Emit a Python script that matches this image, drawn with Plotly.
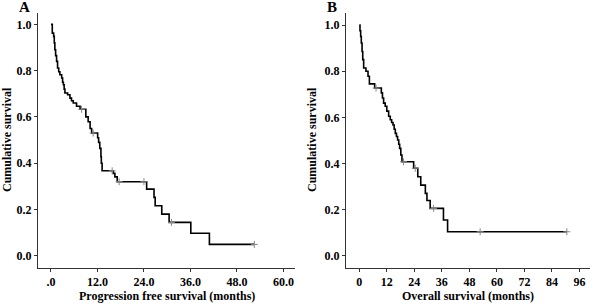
import plotly.graph_objects as go

# ---- Panel A: progression free survival ----
pfs_time = [0, 0.34, 0.69, 0.85, 1.0, 1.2, 1.45, 1.7, 2.0, 2.3, 2.76, 3.0, 3.2, 3.4, 3.6,
            4.3, 4.9, 5.3, 5.75, 6.6, 7.5, 9.0, 9.6, 10.1, 10.5, 12.05, 12.3, 12.6,
            12.9, 13.0, 13.2, 16.1, 16.5, 17.1, 24.7, 26.6, 26.9, 28.6, 30.5, 36.1,
            40.9, 52.5]
pfs_surv = [1.0, 0.962, 0.948, 0.92, 0.89, 0.865, 0.84, 0.811, 0.795, 0.782, 0.768, 0.75,
            0.739, 0.72, 0.703, 0.696, 0.681, 0.67, 0.66, 0.646, 0.633, 0.60, 0.579,
            0.55, 0.53, 0.51, 0.49, 0.464, 0.428, 0.40, 0.367, 0.356, 0.341, 0.32,
            0.288, 0.252, 0.216, 0.18, 0.144, 0.097, 0.049, 0.049]
pfs_cens_time = [7.9, 10.9, 15.8, 17.6, 24.0, 31.1, 52.5]
pfs_cens_surv = [0.633, 0.53, 0.367, 0.32, 0.32, 0.144, 0.049]

# ---- Panel B: overall survival ----
os_time = [0, 0.3, 0.6, 0.87, 1.2, 1.5, 1.9, 2.9, 3.8, 4.4, 6.7, 9.6, 10.1, 10.6, 11.3,
           12.0, 12.8, 13.5, 14.1, 14.7, 15.2, 15.7, 16.2, 16.7, 17.2, 17.6, 18.1,
           18.6, 23.7, 25.5, 26.8, 28.8, 29.5, 30.9, 36.7, 38.5, 90.5]
os_surv = [1.0, 0.975, 0.95, 0.922, 0.885, 0.85, 0.814, 0.80, 0.778, 0.745, 0.727, 0.706,
           0.684, 0.662, 0.648, 0.627, 0.605, 0.59, 0.578, 0.567, 0.549, 0.531, 0.517,
           0.502, 0.484, 0.466, 0.437, 0.408, 0.38, 0.343, 0.307, 0.271, 0.24, 0.206,
           0.156, 0.105, 0.105]
os_cens_time = [7.3, 19.3, 24.4, 32.4, 52.7, 90.5]
os_cens_surv = [0.727, 0.408, 0.38, 0.206, 0.105, 0.105]

pfs_ticks = [0, 12, 24, 36, 48, 60]
pfs_ticktext = [".0", "12.0", "24.0", "36.0", "48.0", "60.0"]
os_ticks = [0, 12, 24, 36, 48, 60, 72, 84, 96]
y_ticks = [0.0, 0.2, 0.4, 0.6, 0.8, 1.0]

W, H = 600, 307
FONT = "Liberation Serif"

fig = go.Figure()

fig.add_trace(go.Scatter(x=pfs_time, y=pfs_surv, mode="lines", line_shape="hv",
                         line=dict(color="black", width=1.6), xaxis="x", yaxis="y",
                         showlegend=False, hoverinfo="skip"))
fig.add_trace(go.Scatter(x=pfs_cens_time, y=pfs_cens_surv, mode="markers",
                         marker=dict(symbol="cross-thin", size=5,
                                     line=dict(color="#888888", width=1)),
                         xaxis="x", yaxis="y", showlegend=False, hoverinfo="skip"))
fig.add_trace(go.Scatter(x=os_time, y=os_surv, mode="lines", line_shape="hv",
                         line=dict(color="black", width=1.6), xaxis="x2", yaxis="y2",
                         showlegend=False, hoverinfo="skip"))
fig.add_trace(go.Scatter(x=os_cens_time, y=os_cens_surv, mode="markers",
                         marker=dict(symbol="cross-thin", size=5,
                                     line=dict(color="#888888", width=1)),
                         xaxis="x2", yaxis="y2", showlegend=False, hoverinfo="skip"))

def px(x):
    return x / W

def py(y):
    return (H - y) / H

axis_common = dict(showgrid=False, zeroline=False, showline=True, linecolor="#333333",
                   linewidth=1, ticks="outside", ticklen=3, tickcolor="#333333",
                   tickwidth=1,
                   tickfont=dict(family=FONT, size=12, color="black", weight="bold"))

fig.update_layout(
    width=W, height=H, margin=dict(l=0, r=0, t=0, b=0),
    paper_bgcolor="white", plot_bgcolor="white",
    xaxis=dict(domain=[px(38), px(295)], range=[-3.35, 63], anchor="y",
               tickvals=pfs_ticks, ticktext=pfs_ticktext, **axis_common),
    yaxis=dict(domain=[py(268), py(13)], range=[-0.053, 1.049], anchor="x",
               tickvals=y_ticks, tickformat=".1f", **axis_common),
    xaxis2=dict(domain=[px(346), px(590)], range=[-5.8, 100.6], anchor="y2",
                tickvals=os_ticks, **axis_common),
    yaxis2=dict(domain=[py(268), py(13)], range=[-0.052, 1.052], anchor="x2",
                tickvals=y_ticks, tickformat=".1f", **axis_common),
)

ann_font = dict(family=FONT, size=12, color="black", weight="bold")
annotations = [
    dict(text="Progression free survival (months)", x=px(167), y=py(296),
         xref="paper", yref="paper", showarrow=False, font=ann_font,
         xanchor="center", yanchor="middle"),
    dict(text="Overall survival (months)", x=px(468), y=py(296),
         xref="paper", yref="paper", showarrow=False, font=ann_font,
         xanchor="center", yanchor="middle"),
    dict(text="Cumulative survival", x=px(7), y=py(140), textangle=-90,
         xref="paper", yref="paper", showarrow=False, font=ann_font,
         xanchor="center", yanchor="middle"),
    dict(text="Cumulative survival", x=px(312), y=py(140), textangle=-90,
         xref="paper", yref="paper", showarrow=False, font=ann_font,
         xanchor="center", yanchor="middle"),
    dict(text="A", x=px(24), y=py(7), xref="paper", yref="paper",
         showarrow=False, font=dict(family=FONT, size=15, color="black", weight="bold"),
         xanchor="center", yanchor="middle"),
    dict(text="B", x=px(332), y=py(7), xref="paper", yref="paper",
         showarrow=False, font=dict(family=FONT, size=15, color="black", weight="bold"),
         xanchor="center", yanchor="middle"),
]
fig.update_layout(annotations=annotations)

fig.write_html("out.html", config={"displayModeBar": False},
               post_script="document.body.style.margin='0';")
